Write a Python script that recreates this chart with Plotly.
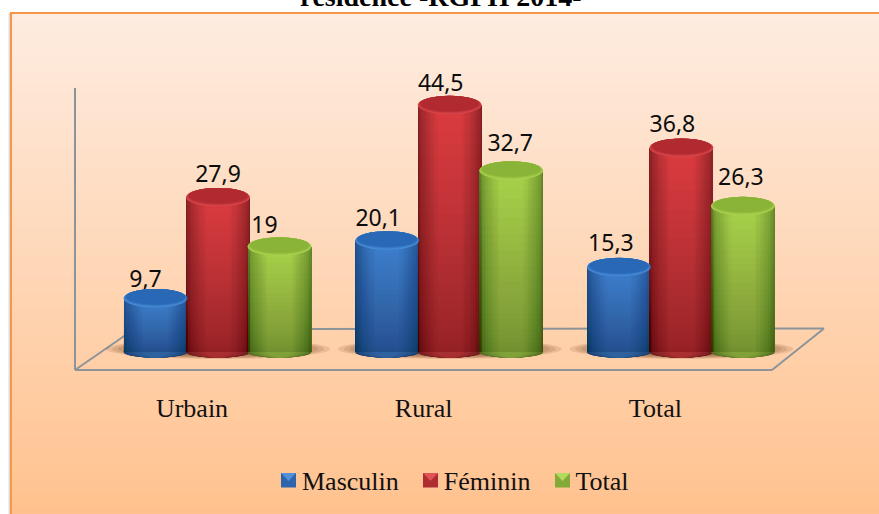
import plotly.graph_objects as go

categories = ["Urbain", "Rural", "Total"]
series_names = ["Masculin", "Féminin", "Total"]
masculin = [9.7, 20.1, 15.3]
feminin = [27.9, 44.5, 36.8]
total = [19, 32.7, 26.3]
series_values = [masculin, feminin, total]

W, H = 879, 514
PL, PR, PT, PB = 75, 825, 30, 370
PX_PER_VAL = 5.55
ZERO_PX = 352
PX_PER_CAT = 231.7
CAT0_PX = 192

def hexmix(a, b, t):
    return "rgb(%d,%d,%d)" % tuple(round(a[i] + (b[i] - a[i]) * t) for i in range(3))

def scale(c, f):
    return tuple(v * f for v in c)

edge = [(31, 78, 140), (134, 32, 36), (100, 134, 40)]
centre = [(62, 128, 208), (220, 60, 64), (168, 212, 74)]
cap_rim = [(72, 140, 215), (216, 70, 74), (170, 210, 80)]
cap_top = [(40, 104, 180), (176, 42, 48), (138, 180, 56)]

bw = 64 / PX_PER_CAT
bar_off = [(155.5 - 192) / PX_PER_CAT, (218 - 192) / PX_PER_CAT, (279.5 - 192) / PX_PER_CAT]
v_h = lambda px: px / PX_PER_VAL
cap_hh = v_h(9.2)
base_hh = v_h(5.8)

px = lambda x: (x - PL) / (PR - PL)
py = lambda y: (PB - y) / (PB - PT)

shapes = []
# frame shadow on the left
for x_s, c_s in [(8.5, "#eeeeee"), (9.5, "#dcdcdc")]:
    shapes.append(dict(type="line", xref="paper", yref="paper", x0=px(x_s), x1=px(x_s), y0=py(13), y1=py(H),
                       line=dict(color=c_s, width=1), layer="below"))
# page background
top_c, bot_c = (254, 236, 224), (255, 194, 143)
NS = 70
for i in range(NS):
    yy = 13 + (H - 13) * i / NS
    shapes.append(dict(type="rect", xref="paper", yref="paper", x0=px(10), x1=px(W), y0=py(yy), y1=py(H),
                       line_width=0, fillcolor=hexmix(top_c, bot_c, i / (NS - 1)), layer="below"))
for seg in [((10, 13), (W, 13)), ((11, 13), (11, H))]:
    shapes.append(dict(type="line", xref="paper", yref="paper", x0=px(seg[0][0]), y0=py(seg[0][1]),
                       x1=px(seg[1][0]), y1=py(seg[1][1]), line=dict(color="#f79646", width=2), layer="below"))
# walls and floor
for seg in [((75, 88), (75, 370)), ((75, 370), (772, 370)), ((772, 370), (824, 328.5)),
            ((824, 328.5), (300, 329)), ((75, 370), (130, 332))]:
    shapes.append(dict(type="line", xref="paper", yref="paper", x0=px(seg[0][0]), y0=py(seg[0][1]),
                       x1=px(seg[1][0]), y1=py(seg[1][1]), line=dict(color="#8d9499", width=2), layer="below"))
# floor shadows
for c in range(3):
    cx = c + bar_off[1]
    for j in range(9):
        sx = (112 - 6 * j) / PX_PER_CAT
        sy = v_h(10 - 0.7 * j)
        shapes.append(dict(type="circle", xref="x", yref="y", x0=cx - sx, x1=cx + sx,
                           y0=v_h(3) - sy, y1=v_h(3) + sy, line_width=0,
                           fillcolor="rgba(110,65,30,0.14)", layer="below"))

fig = go.Figure()
K = 12
for s, name in enumerate(series_names):
    vals = series_values[s]
    xs = [c + bar_off[s] for c in range(len(categories))]
    for k in range(K):
        t = k / (K - 1)
        col = hexmix(edge[s], centre[s], t ** 0.8)
        dark = hexmix(scale(edge[s], 0.76), scale(centre[s], 0.76), t ** 0.8)
        w = bw * (1 - 0.62 * t ** 1.3)
        fig.add_trace(go.Bar(x=xs, y=vals, width=w, marker=dict(color=col, line_width=0),
                             name=name, legendgroup=name, showlegend=False, hoverinfo="skip"))
        for x in xs:
            shapes.append(dict(type="circle", xref="x", yref="y", x0=x - w / 2, x1=x + w / 2,
                               y0=-base_hh, y1=base_hh, line_width=0, fillcolor=dark, layer="below"))
    fig.add_trace(go.Bar(x=[None], y=[None], name=name, legendgroup=name, showlegend=True,
                         marker=dict(color="rgba(0,0,0,0)", line_width=0), hoverinfo="skip"))
# vertical shading and caps, above bars
JB = 28
for s in range(3):
    vals = series_values[s]
    for c, v in enumerate(vals):
        x = c + bar_off[s]
        for j in range(JB):
            shapes.append(dict(type="rect", xref="x", yref="y", x0=x - bw / 2, x1=x + bw / 2,
                               y0=0, y1=v * ((j + 1) / JB) ** 1.5, line_width=0,
                               fillcolor="rgba(40,20,10,0.011)", layer="above"))
        for j in range(5):
            t = j / 4
            w = bw * (1 - 0.08 * t)
            hh = cap_hh * (1 - 0.16 * t)
            cy = v + v_h(1.5) * t
            shapes.append(dict(type="circle", xref="x", yref="y", x0=x - w / 2, x1=x + w / 2,
                               y0=cy - hh, y1=cy + hh, line_width=0,
                               fillcolor=hexmix(cap_rim[s], cap_top[s], t), layer="above"))

# legend swatches (bevelled squares)
swatch_left = [281, 423, 555]
for s, left in enumerate(swatch_left):
    x0, x1, y0, y1 = px(left), px(left + 15), py(473), py(487.5)
    shapes.append(dict(type="rect", xref="paper", yref="paper", x0=x0, x1=x1, y0=y0, y1=y1, line_width=0,
                       fillcolor=hexmix(edge[s], centre[s], 0.45), layer="above"))
    xm, ym = (x0 + x1) / 2, py(481)
    shapes.append(dict(type="path", xref="paper", yref="paper",
                       path=f"M{x0},{y0} L{x1},{y0} L{xm},{ym} Z", line_width=0,
                       fillcolor=hexmix(centre[s], (255, 255, 255), 0.12), layer="above"))

label_dx = [[-10, -9, -8], [0, -9, -9], [-15, -1, -2]]
label_dy = [17, 20, 22, 21, 20, 22, 19, 25, 27]
lx, ly, lt = [], [], []
i = 0
for s in range(3):
    for c, v in enumerate(series_values[s]):
        lx.append(c + bar_off[s] + label_dx[s][c] / PX_PER_CAT)
        ly.append(v + v_h(label_dy[i]))
        lt.append(str(v).replace(".", ","))
        i += 1
fig.add_trace(go.Scatter(x=lx, y=ly, text=lt, mode="text", textposition="middle center",
                         textfont=dict(family="Noto Sans", size=23, color="#0c0c0c"), showlegend=False,
                         hoverinfo="skip", cliponaxis=False))

fig.add_annotation(text="<b>résidence -RGPH 2014-</b>", xref="paper", yref="paper",
                   x=px(441), y=py(14), xanchor="center", yanchor="bottom", showarrow=False,
                   font=dict(family="Liberation Serif", size=28, color="black"))

fig.update_layout(
    width=W, height=H, autosize=False,
    margin=dict(l=PL, r=W - PR, t=PT, b=H - PB, pad=0),
    paper_bgcolor="white", plot_bgcolor="rgba(0,0,0,0)",
    barmode="overlay", bargap=0, shapes=shapes,
    xaxis=dict(range=[(PL - CAT0_PX) / PX_PER_CAT, (PR - CAT0_PX) / PX_PER_CAT],
               tickvals=[0, 1, 2], ticktext=categories, showgrid=False, zeroline=False, showline=False,
               ticks="", ticklabelstandoff=20,
               tickfont=dict(family="Liberation Serif", size=26, color="#111")),
    yaxis=dict(range=[(ZERO_PX - PB) / PX_PER_VAL, (ZERO_PX - PT) / PX_PER_VAL],
               visible=False, showgrid=False, zeroline=False),
    legend=dict(orientation="h", xref="container", yref="container", x=262 / W, y=1 - 480 / H,
                xanchor="left", yanchor="middle",
                bgcolor="rgba(0,0,0,0)", font=dict(family="Liberation Serif", size=26, color="#111"),
                itemclick=False, itemdoubleclick=False, tracegroupgap=0),
    showlegend=True,
)
fig.write_html("out.html", post_script="document.body.style.margin='0';", config={"displayModeBar": False})
